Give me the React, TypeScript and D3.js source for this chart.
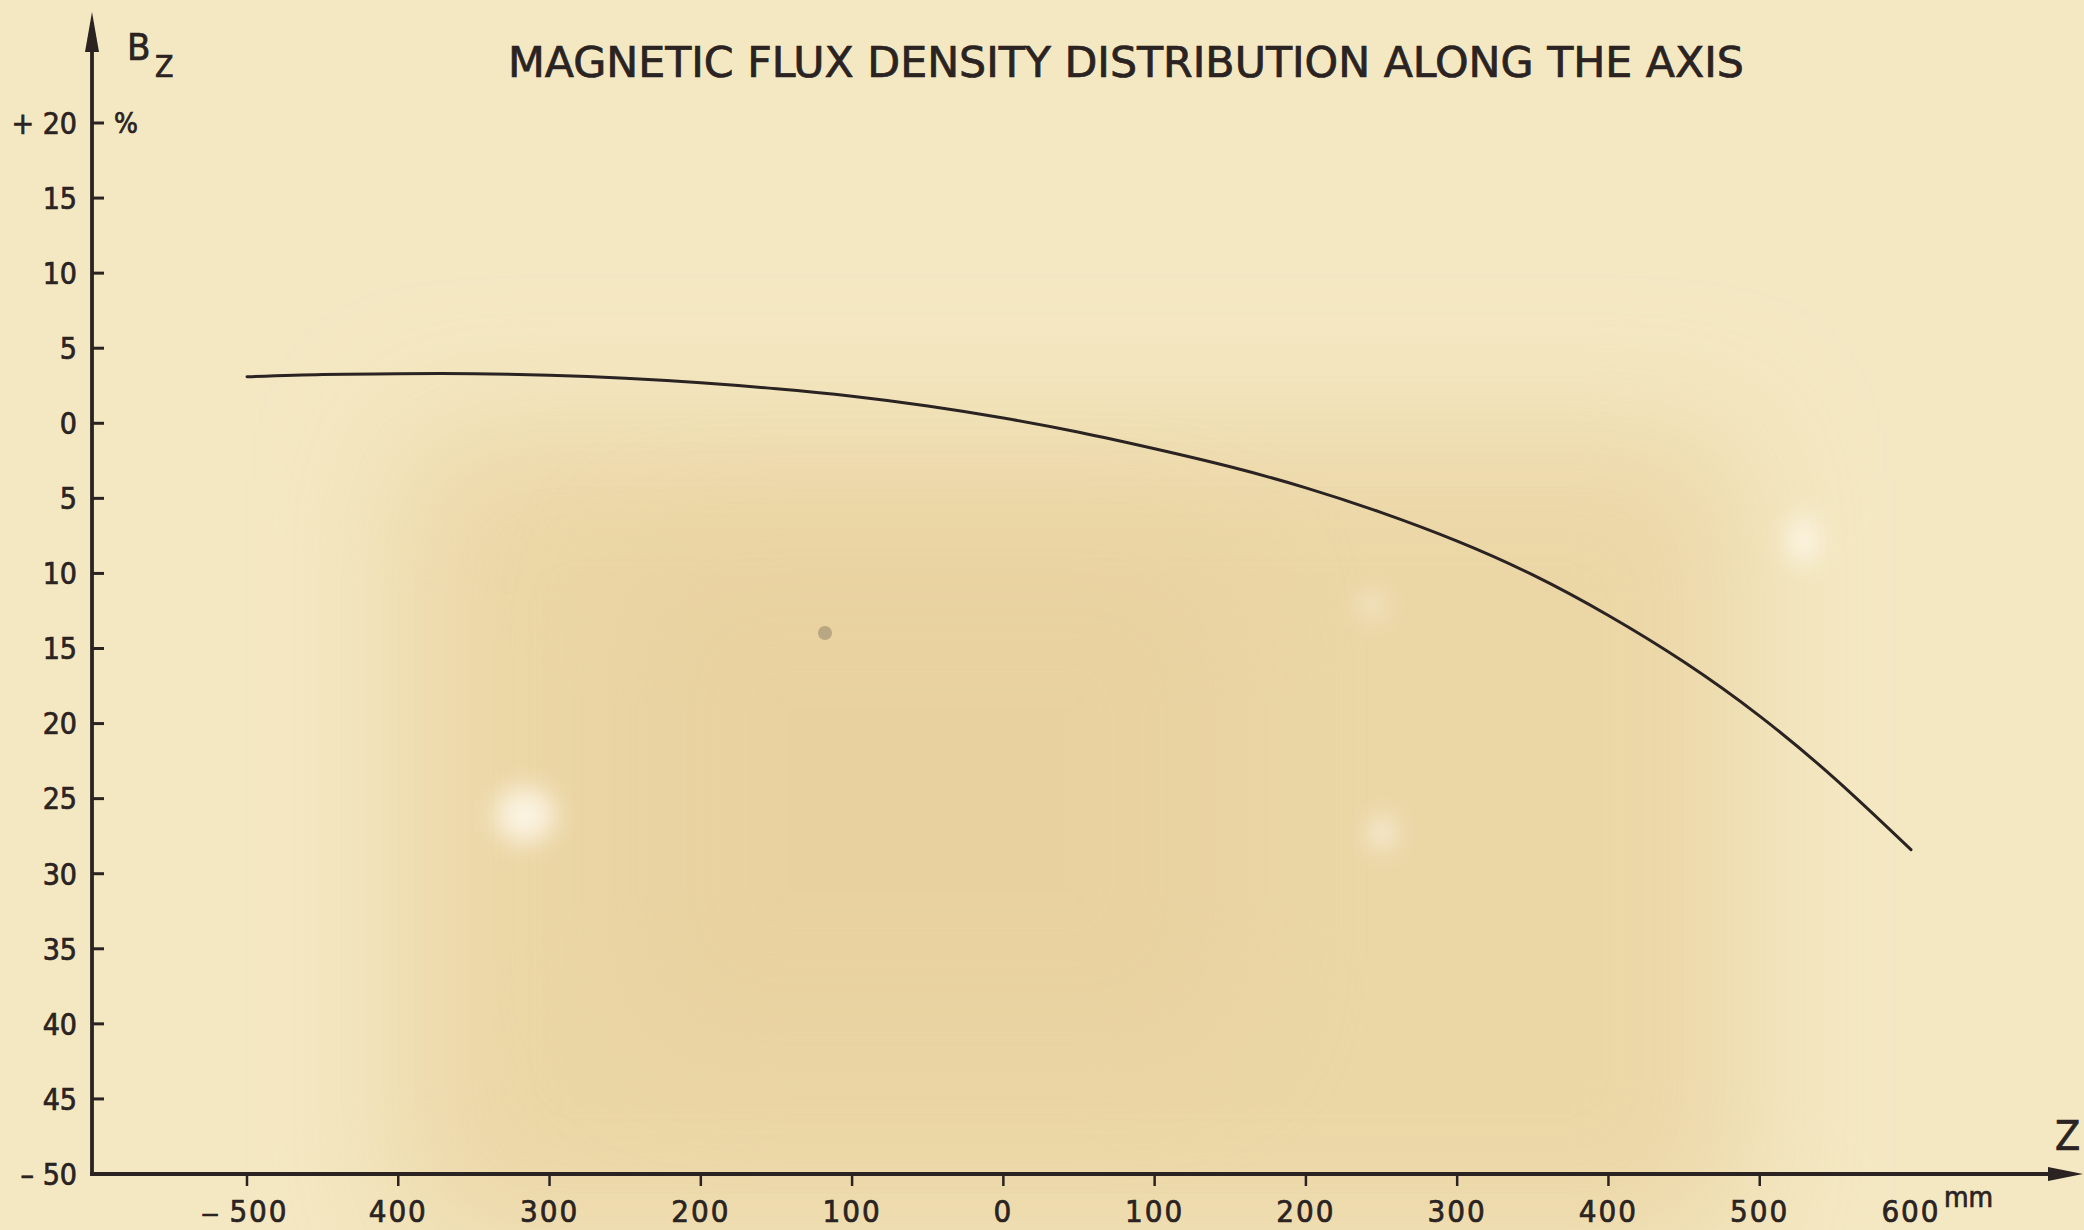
import React from "react";
import * as d3 from "d3";

// ---- data ----
const zPositions = [-500, -450, -400, -350, -300, -250, -200, -150, -100, -50, 0, 50, 100, 150, 200, 250, 300, 350, 400, 450, 500, 550, 600];
const bzValues = [3.1, 3.25, 3.3, 3.3, 3.2, 3.0, 2.7, 2.3, 1.8, 1.15, 0.35, -0.6, -1.7, -2.9, -4.3, -5.95, -7.85, -10.1, -12.8, -15.9, -19.5, -23.7, -28.4];

const yTickValues = [20, 15, 10, 5, 0, -5, -10, -15, -20, -25, -30, -35, -40, -45, -50];
const yTickLabels = ["+ 20", "15", "10", "5", "0", "5", "10", "15", "20", "25", "30", "35", "40", "45", "– 50"];

const xTickValues = [-500, -400, -300, -200, -100, 0, 100, 200, 300, 400, 500];
const xLabelValues = [-500, -400, -300, -200, -100, 0, 100, 200, 300, 400, 500, 600];
const xTickLabels = ["500", "400", "300", "200", "100", "0", "100", "200", "300", "400", "500", "600"];

const titleText = "MAGNETIC FLUX DENSITY DISTRIBUTION ALONG THE AXIS";

// ---- layout ----
const W = 2084;
const H = 1230;
const axisX = 92;
const axisY = 1174;
const ink = "#2a2321";
const font = "'DejaVu Sans Condensed', 'DejaVu Sans', sans-serif";

export default function App() {
  const x = d3.scaleLinear().domain([-500, 600]).range([247, 1911]);
  const y = d3.scaleLinear().domain([-50, 20]).range([axisY, 123]);

  const line = d3
    .line<number>()
    .x((_, i) => x(zPositions[i]))
    .y((d) => y(d))
    .curve(d3.curveNatural);

  const textStroke = { stroke: ink, strokeWidth: 0.7 };

  return (
    <svg
      width={W}
      height={H}
      viewBox={`0 0 ${W} ${H}`}
      style={{ position: "fixed", left: 0, top: 0, display: "block" }}
    >
      <defs>
        <filter id="blurBig" x="-30%" y="-30%" width="160%" height="160%">
          <feGaussianBlur stdDeviation="70" />
        </filter>
        <filter id="blurSmall" x="-100%" y="-100%" width="300%" height="300%">
          <feGaussianBlur stdDeviation="12" />
        </filter>
      </defs>

      {/* paper */}
      <rect x={0} y={0} width={W} height={H} fill="#f4e8c3" />
      <rect x={400} y={430} width={1340} height={820} fill="#e9d29f" opacity={0.8} filter="url(#blurBig)" />
      <rect x={620} y={540} width={620} height={520} fill="#e6cd98" opacity={0.45} filter="url(#blurBig)" />
      {/* glare spots */}
      <ellipse cx={525} cy={815} rx={30} ry={28} fill="#fffaf0" opacity={0.8} filter="url(#blurSmall)" />
      <ellipse cx={1382} cy={833} rx={12} ry={16} fill="#fffaf0" opacity={0.75} filter="url(#blurSmall)" />
      <ellipse cx={1803} cy={540} rx={16} ry={24} fill="#fffaf0" opacity={0.75} filter="url(#blurSmall)" />
      <ellipse cx={1372} cy={605} rx={12} ry={12} fill="#fffaf0" opacity={0.55} filter="url(#blurSmall)" />
      <circle cx={825} cy={633} r={7} fill="#9a8a70" opacity={0.6} />

      {/* title */}
      <text
        x={1126}
        y={77}
        textAnchor="middle"
        fontFamily={font}
        fontSize={43}
        fill={ink}
        {...textStroke}
        textLength={1236}
        lengthAdjust="spacingAndGlyphs"
      >
        {titleText}
      </text>

      {/* y axis */}
      <line x1={axisX} y1={axisY} x2={axisX} y2={40} stroke={ink} strokeWidth={3.8} />
      <path d={`M${axisX},12 L${axisX - 7},52 L${axisX + 7},52 Z`} fill={ink} />
      {yTickValues.map((v, i) => (
        <g key={"yt" + i}>
          <line x1={axisX} x2={axisX + 12} y1={y(v)} y2={y(v)} stroke={ink} strokeWidth={3} />
          <text
            x={77}
            y={y(v)}
            dy="0.36em"
            textAnchor="end"
            fontFamily={font}
            fontSize={30}
            fill={ink}
            {...textStroke}
          >
            {yTickLabels[i]}
          </text>
        </g>
      ))}
      <text x={114} y={y(20)} dy="0.36em" fontFamily={font} fontSize={28} fill={ink} {...textStroke}>
        %
      </text>
      <text x={127} y={60} fontFamily={font} fontSize={38} fill={ink} {...textStroke}>
        B
      </text>
      <text x={155} y={77} fontFamily={font} fontSize={30} fill={ink} {...textStroke}>
        Z
      </text>

      {/* x axis */}
      <line x1={axisX - 2} y1={axisY} x2={2055} y2={axisY} stroke={ink} strokeWidth={3.8} />
      <path d={`M2083,${axisY} L2048,${axisY - 7} L2048,${axisY + 7} Z`} fill={ink} />
      {xTickValues.map((v) => (
        <line key={"xt" + v} x1={x(v)} x2={x(v)} y1={axisY} y2={axisY + 12} stroke={ink} strokeWidth={2.5} />
      ))}
      {xLabelValues.map((v, i) => (
        <text
          key={"xl" + v}
          x={x(v) + (i === 0 ? 12 : 0)}
          y={1222}
          textAnchor="middle"
          fontFamily={font}
          fontSize={31}
          letterSpacing={2}
          fill={ink}
          {...textStroke}
        >
          {xTickLabels[i]}
        </text>
      ))}
      <text
        transform={`translate(${x(-500) - 37},1222) scale(1.5,1)`}
        textAnchor="middle"
        fontFamily={font}
        fontSize={27}
        fill={ink}
        {...textStroke}
      >
        –
      </text>
      <text x={1944} y={1207} fontFamily={font} fontSize={28} fill={ink} {...textStroke}>
        mm
      </text>
      <text x={2055} y={1150} fontFamily={font} fontSize={41} fill={ink} {...textStroke}>
        Z
      </text>

      {/* curve */}
      <path d={line(bzValues) || ""} fill="none" stroke={ink} strokeWidth={3} strokeLinecap="round" />
    </svg>
  );
}
